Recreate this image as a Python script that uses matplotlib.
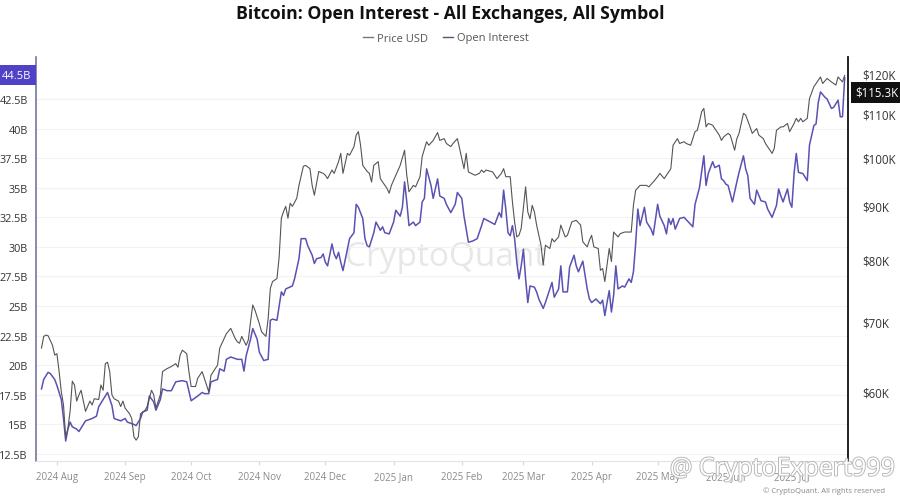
"""Bitcoin: Open Interest と価格のチャート."""

import matplotlib
matplotlib.use("Agg")
import matplotlib.dates as mdates
import matplotlib.patheffects as pe
import matplotlib.pyplot as plt
import matplotlib.transforms as mtransforms
import pandas as pd
from matplotlib.lines import Line2D
from matplotlib.ticker import FixedLocator, NullLocator

# 価格 (千ドル)
price_dates = [
    "2024-07-25", "2024-07-26", "2024-07-27", "2024-07-28", "2024-07-30", "2024-07-31",
    "2024-08-01", "2024-08-02", "2024-08-03", "2024-08-04", "2024-08-05", "2024-08-06",
    "2024-08-07", "2024-08-08", "2024-08-09", "2024-08-10", "2024-08-11", "2024-08-12",
    "2024-08-13", "2024-08-14", "2024-08-16", "2024-08-17", "2024-08-18", "2024-08-20",
    "2024-08-21", "2024-08-22", "2024-08-23", "2024-08-24", "2024-08-25", "2024-08-26",
    "2024-08-27", "2024-08-29", "2024-08-30", "2024-08-31",
    "2024-09-01", "2024-09-03", "2024-09-04", "2024-09-05", "2024-09-06", "2024-09-07",
    "2024-09-08", "2024-09-10", "2024-09-11", "2024-09-13", "2024-09-14", "2024-09-15",
    "2024-09-17", "2024-09-18", "2024-09-20", "2024-09-22", "2024-09-24", "2024-09-25",
    "2024-09-26", "2024-09-27", "2024-09-29", "2024-09-30",
    "2024-10-01", "2024-10-03", "2024-10-04", "2024-10-06", "2024-10-07", "2024-10-09",
    "2024-10-10", "2024-10-13", "2024-10-14", "2024-10-16", "2024-10-17", "2024-10-19",
    "2024-10-21", "2024-10-22", "2024-10-23", "2024-10-24", "2024-10-26", "2024-10-27",
    "2024-10-28", "2024-10-29", "2024-10-30",
    "2024-11-01", "2024-11-02", "2024-11-04", "2024-11-05", "2024-11-06", "2024-11-07",
    "2024-11-09", "2024-11-10", "2024-11-11", "2024-11-12", "2024-11-13", "2024-11-14",
    "2024-11-15", "2024-11-16", "2024-11-18", "2024-11-19", "2024-11-21", "2024-11-22",
    "2024-11-24", "2024-11-25", "2024-11-26", "2024-11-27", "2024-11-28", "2024-11-30",
    "2024-12-01", "2024-12-02", "2024-12-04", "2024-12-05", "2024-12-07", "2024-12-08",
    "2024-12-09", "2024-12-11", "2024-12-12", "2024-12-14", "2024-12-15", "2024-12-16",
    "2024-12-17", "2024-12-18", "2024-12-20", "2024-12-21", "2024-12-22", "2024-12-23",
    "2024-12-25", "2024-12-26", "2024-12-27", "2024-12-29", "2024-12-30", "2024-12-31",
    "2025-01-02", "2025-01-04", "2025-01-06", "2025-01-07", "2025-01-08", "2025-01-10",
    "2025-01-11", "2025-01-13", "2025-01-14", "2025-01-16", "2025-01-17", "2025-01-19",
    "2025-01-21", "2025-01-22", "2025-01-24", "2025-01-25", "2025-01-27", "2025-01-28",
    "2025-01-30", "2025-01-31",
    "2025-02-02", "2025-02-03", "2025-02-04", "2025-02-07", "2025-02-09", "2025-02-10",
    "2025-02-11", "2025-02-12", "2025-02-15", "2025-02-17", "2025-02-19", "2025-02-20",
    "2025-02-21", "2025-02-23", "2025-02-24", "2025-02-25", "2025-02-26", "2025-02-27",
    "2025-02-28",
    "2025-03-02", "2025-03-03", "2025-03-04", "2025-03-05", "2025-03-06", "2025-03-07",
    "2025-03-09", "2025-03-10", "2025-03-11", "2025-03-13", "2025-03-14", "2025-03-15",
    "2025-03-17", "2025-03-18", "2025-03-20", "2025-03-21", "2025-03-23", "2025-03-25",
    "2025-03-27", "2025-03-28", "2025-03-30", "2025-03-31",
    "2025-04-01", "2025-04-02", "2025-04-04", "2025-04-05", "2025-04-06", "2025-04-07",
    "2025-04-09", "2025-04-10", "2025-04-11", "2025-04-13", "2025-04-14", "2025-04-16",
    "2025-04-19", "2025-04-20", "2025-04-21", "2025-04-23", "2025-04-26", "2025-04-27",
    "2025-04-29",
    "2025-05-01", "2025-05-02", "2025-05-04", "2025-05-05", "2025-05-07", "2025-05-08",
    "2025-05-10", "2025-05-11", "2025-05-13", "2025-05-14", "2025-05-16", "2025-05-18",
    "2025-05-19", "2025-05-20", "2025-05-21", "2025-05-22", "2025-05-23", "2025-05-24",
    "2025-05-26", "2025-05-27", "2025-05-29", "2025-05-30", "2025-05-31",
    "2025-06-02", "2025-06-03", "2025-06-05", "2025-06-06", "2025-06-07", "2025-06-09",
    "2025-06-10", "2025-06-12", "2025-06-13", "2025-06-15", "2025-06-16", "2025-06-18",
    "2025-06-19", "2025-06-22", "2025-06-23", "2025-06-24", "2025-06-26", "2025-06-27",
    "2025-06-29", "2025-06-30",
    "2025-07-02", "2025-07-03", "2025-07-04", "2025-07-05", "2025-07-06", "2025-07-08",
    "2025-07-09", "2025-07-11", "2025-07-12", "2025-07-14", "2025-07-15", "2025-07-17",
    "2025-07-19", "2025-07-21", "2025-07-22", "2025-07-24", "2025-07-25",
]
price_k = [
    66.0, 67.7, 67.9, 67.8, 66.4, 65.0,
    65.2, 62.7, 60.0, 58.3, 54.3, 55.4,
    57.5, 61.4, 60.9, 58.8, 59.6, 60.2,
    58.8, 57.5, 58.8, 58.3, 59.1, 59.0,
    60.9, 60.2, 63.8, 64.0, 62.7, 59.6,
    59.1, 58.8, 58.1, 58.8,
    57.9, 57.2, 56.6, 54.4, 54.0, 54.4,
    57.2, 57.6, 58.1, 60.2, 59.6, 57.9,
    59.6, 62.7, 63.1, 63.4, 63.8, 63.3,
    65.0, 65.7, 65.2, 62.7,
    60.7, 60.7, 61.8, 62.7, 61.8, 60.0,
    62.2, 63.6, 66.0, 67.4, 68.1, 68.9,
    67.4, 66.9, 66.7, 67.7, 66.4, 67.2,
    69.9, 72.5, 71.7,
    69.6, 68.4, 67.7, 70.4, 75.2, 76.3,
    76.8, 80.5, 87.6, 88.9, 89.9, 87.6,
    90.5, 89.9, 91.5, 94.1, 98.1, 98.3,
    97.6, 94.1, 92.1, 94.5, 97.0, 96.6,
    96.2, 95.5, 97.3, 96.6, 99.1, 100.9,
    96.6, 100.9, 100.5, 102.4, 105.0, 105.8,
    102.7, 98.3, 97.0, 96.6, 94.8, 98.3,
    99.1, 95.5, 94.8, 93.5, 92.5, 94.1,
    96.2, 98.3, 101.6, 96.2, 92.8, 94.1,
    93.8, 95.9, 100.2, 103.5, 102.7, 103.8,
    105.6, 103.8, 104.2, 103.1, 102.4, 103.1,
    104.2, 102.0,
    97.6, 100.9, 96.9, 96.2, 96.6, 97.3,
    96.8, 97.3, 96.9, 95.5, 96.6, 97.6,
    95.9, 95.9, 90.8, 86.9, 84.1, 84.4,
    85.7,
    93.8, 88.8, 87.5, 90.1, 88.8, 86.3,
    82.6, 79.1, 82.6, 82.0, 83.8, 83.2,
    84.1, 86.3, 84.1, 84.4, 86.9, 87.2,
    86.3, 83.2, 82.3, 83.5,
    84.4, 82.3, 82.0, 78.2, 78.5, 76.3,
    82.0, 79.7, 85.0, 84.1, 84.7, 85.0,
    85.0, 90.1, 93.1, 94.1, 94.1, 93.8,
    94.8,
    95.9, 96.6, 95.5, 96.2, 97.6, 102.7,
    104.2, 103.1, 103.5, 103.1, 102.7, 105.8,
    106.1, 108.1, 110.5, 111.3, 106.9, 107.7,
    107.3, 106.5, 105.0, 103.8, 104.6,
    105.4, 105.0, 101.6, 104.2, 105.4, 110.1,
    109.7, 106.9, 105.4, 106.5, 105.0, 104.2,
    103.1, 100.9, 102.0, 106.1, 106.9, 106.9,
    107.7, 105.8,
    107.7, 108.9, 108.1, 108.9, 108.1, 108.9,
    113.7, 116.7, 117.5, 119.2, 117.5, 118.8,
    117.9, 117.1, 119.2, 117.9, 119.6,
]

# Open Interest (十億ドル)
oi_dates = [
    "2024-07-25", "2024-07-26", "2024-07-28", "2024-07-29", "2024-07-31",
    "2024-08-01", "2024-08-03", "2024-08-04", "2024-08-05", "2024-08-06", "2024-08-07",
    "2024-08-08", "2024-08-10", "2024-08-11", "2024-08-13", "2024-08-14", "2024-08-17",
    "2024-08-19", "2024-08-20", "2024-08-22", "2024-08-24", "2024-08-26", "2024-08-27",
    "2024-08-30",
    "2024-09-01", "2024-09-02", "2024-09-05", "2024-09-06", "2024-09-08", "2024-09-09",
    "2024-09-11", "2024-09-12", "2024-09-14", "2024-09-15", "2024-09-17", "2024-09-18",
    "2024-09-20", "2024-09-22", "2024-09-24", "2024-09-27", "2024-09-29",
    "2024-10-01", "2024-10-04", "2024-10-06", "2024-10-07", "2024-10-09", "2024-10-10",
    "2024-10-13", "2024-10-14", "2024-10-16", "2024-10-17", "2024-10-19", "2024-10-22",
    "2024-10-24", "2024-10-25", "2024-10-26", "2024-10-28", "2024-10-29", "2024-10-31",
    "2024-11-01", "2024-11-03", "2024-11-05", "2024-11-06", "2024-11-07", "2024-11-09",
    "2024-11-10", "2024-11-11", "2024-11-12", "2024-11-13", "2024-11-16", "2024-11-17",
    "2024-11-19", "2024-11-20", "2024-11-22", "2024-11-23", "2024-11-25", "2024-11-26",
    "2024-11-27", "2024-11-29", "2024-11-30",
    "2024-12-01", "2024-12-02", "2024-12-04", "2024-12-05", "2024-12-06", "2024-12-07",
    "2024-12-08", "2024-12-09", "2024-12-11", "2024-12-12", "2024-12-14", "2024-12-15",
    "2024-12-16", "2024-12-18", "2024-12-19", "2024-12-20", "2024-12-21", "2024-12-23",
    "2024-12-24", "2024-12-26", "2024-12-27", "2024-12-28", "2024-12-30",
    "2025-01-01", "2025-01-02", "2025-01-04", "2025-01-05", "2025-01-06", "2025-01-07",
    "2025-01-08", "2025-01-10", "2025-01-11", "2025-01-13", "2025-01-14", "2025-01-15",
    "2025-01-16", "2025-01-18", "2025-01-19", "2025-01-21", "2025-01-22", "2025-01-24",
    "2025-01-25", "2025-01-27", "2025-01-29", "2025-01-30",
    "2025-02-01", "2025-02-02", "2025-02-04", "2025-02-06", "2025-02-08", "2025-02-10",
    "2025-02-11", "2025-02-14", "2025-02-16", "2025-02-18", "2025-02-19", "2025-02-20",
    "2025-02-21", "2025-02-22", "2025-02-23", "2025-02-24", "2025-02-25", "2025-02-26",
    "2025-02-27", "2025-02-28",
    "2025-03-01", "2025-03-02", "2025-03-03", "2025-03-04", "2025-03-06", "2025-03-07",
    "2025-03-08", "2025-03-10", "2025-03-11", "2025-03-13", "2025-03-14", "2025-03-15",
    "2025-03-17", "2025-03-18", "2025-03-19", "2025-03-21", "2025-03-22", "2025-03-24",
    "2025-03-25", "2025-03-26", "2025-03-28", "2025-03-29", "2025-03-30", "2025-03-31",
    "2025-04-01", "2025-04-03", "2025-04-05", "2025-04-06", "2025-04-07", "2025-04-08",
    "2025-04-09", "2025-04-10", "2025-04-11", "2025-04-12", "2025-04-13", "2025-04-15",
    "2025-04-16", "2025-04-18", "2025-04-19", "2025-04-20", "2025-04-21", "2025-04-22",
    "2025-04-23", "2025-04-25", "2025-04-26", "2025-04-28", "2025-04-29",
    "2025-05-01", "2025-05-02", "2025-05-04", "2025-05-05", "2025-05-06", "2025-05-07",
    "2025-05-08", "2025-05-09", "2025-05-11", "2025-05-13", "2025-05-15", "2025-05-17",
    "2025-05-18", "2025-05-20", "2025-05-22", "2025-05-23", "2025-05-24", "2025-05-26",
    "2025-05-27", "2025-05-29", "2025-05-30", "2025-05-31",
    "2025-06-01", "2025-06-02", "2025-06-04", "2025-06-06", "2025-06-07", "2025-06-09",
    "2025-06-10", "2025-06-11", "2025-06-12", "2025-06-14", "2025-06-15", "2025-06-17",
    "2025-06-19", "2025-06-20", "2025-06-22", "2025-06-24", "2025-06-25", "2025-06-26",
    "2025-06-27", "2025-06-29", "2025-06-30",
    "2025-07-01", "2025-07-02", "2025-07-03", "2025-07-04", "2025-07-06", "2025-07-08",
    "2025-07-09", "2025-07-11", "2025-07-12", "2025-07-13", "2025-07-14", "2025-07-16",
    "2025-07-17", "2025-07-19", "2025-07-20", "2025-07-22", "2025-07-23", "2025-07-24",
    "2025-07-25",
]
oi_b = [
    18.0, 18.8, 19.4, 19.3, 18.8,
    18.3, 17.1, 15.5, 13.6, 14.6, 15.2,
    14.8, 14.6, 14.4, 15.0, 15.3, 15.5,
    15.7, 16.5, 17.1, 17.7, 16.6, 15.5,
    15.3,
    15.5, 15.2, 15.0, 14.9, 15.5, 16.05,
    16.2, 17.4, 16.9, 16.2, 17.1, 18.0,
    17.85, 17.85, 18.6, 18.7, 18.6,
    17.0, 17.4, 17.7, 17.6, 17.6, 18.6,
    18.8, 19.7, 19.5, 20.5, 20.7, 20.5,
    20.5, 19.5, 20.8, 22.2, 23.1, 22.2,
    21.1, 20.4, 20.5, 23.8, 23.9, 23.8,
    25.0, 26.2, 25.9, 26.45, 26.7, 27.3,
    29.0, 30.7, 30.7, 30.1, 29.3, 28.6,
    29.0, 29.1, 29.4,
    28.7, 28.4, 30.25, 29.4, 29.0, 29.55,
    28.7, 28.0, 29.8, 30.7, 31.2, 33.6,
    33.35, 32.4, 30.7, 30.1, 30.0, 31.2,
    32.1, 31.4, 31.7, 31.2, 31.1,
    32.1, 33.1, 32.6, 33.35, 35.5, 33.8,
    31.8, 32.1, 31.8, 32.1, 33.8, 34.1,
    36.6, 35.2, 34.1, 35.75, 34.3, 34.1,
    33.6, 32.9, 33.6, 34.6,
    34.1, 32.6, 30.4, 30.5, 30.7, 31.8,
    32.4, 32.1, 31.9, 32.9, 32.5, 34.8,
    33.2, 31.2, 30.95, 31.8, 30.7, 28.7,
    27.3, 28.4,
    29.8, 27.3, 25.3, 26.7, 26.6, 26.2,
    25.6, 24.8, 25.3, 26.45, 27.0, 25.75,
    26.45, 28.4, 26.2, 26.2, 28.3, 29.3,
    28.4, 27.9, 28.8, 27.6, 26.45, 25.6,
    25.3, 25.6, 25.2, 25.5, 24.2, 25.3,
    26.3, 24.5, 25.9, 28.4, 26.45, 26.7,
    26.6, 27.3, 27.0, 27.9, 30.25, 33.2,
    31.8, 33.35, 32.1, 31.5, 31.0,
    33.6, 32.6, 31.8, 31.1, 32.4, 31.9,
    32.4, 31.5, 32.4, 32.5, 32.1, 31.7,
    33.6, 35.0, 37.7, 35.2, 36.2, 37.2,
    36.7, 36.9, 35.75, 35.6,
    35.3, 35.2, 33.8, 35.5, 36.3, 37.7,
    36.6, 36.0, 34.1, 33.6, 34.8, 33.9,
    33.8, 33.2, 32.5, 33.5, 34.9, 34.3,
    33.8, 34.9, 33.8,
    33.35, 36.2, 37.9, 36.3, 36.2, 35.6,
    38.6, 40.25, 40.4, 42.2, 43.1, 42.65,
    42.5, 41.7, 41.8, 42.4, 41.0, 41.0,
    44.3,
]

oi_ticks = [12.5, 15, 17.5, 20, 22.5, 25, 27.5, 30, 32.5, 35, 37.5, 40, 42.5]
price_ticks = [60, 70, 80, 90, 100, 110, 120]
last_oi = 44.5
last_price = 115.3

PRICE_COLOR = "#555555"
OI_COLOR = "#5a52b3"


def main():
    """メイン関数."""
    plt.rcParams["font.family"] = ["Open Sans", "DejaVu Sans"]

    fig = plt.figure(figsize=(9, 5.02), dpi=100)
    ax = fig.add_axes([0.04, 0.0797, 0.9022, 0.8048])
    ax2 = ax.twinx()

    px = pd.to_datetime(price_dates)
    ox = pd.to_datetime(oi_dates)

    # ウォーターマーク
    ax.text(0.504, 0.505, "CryptoQuant", transform=ax.transAxes,
            ha="center", va="center", fontsize=24, color="#e7e7e7", zorder=0)

    ax.plot(ox, oi_b, color=OI_COLOR, lw=1.1, zorder=3)
    ax2.plot(px, price_k, color=PRICE_COLOR, lw=0.8)

    ax.set_xlim(px[0] - pd.Timedelta(days=2.5), px[-1] + pd.Timedelta(days=1.5))

    # 左軸 (OI)
    ax.set_ylim(11.91, 46.05)
    ax.yaxis.set_major_locator(FixedLocator(oi_ticks))
    ax.set_yticklabels(["{:g}B".format(v) for v in oi_ticks])
    ax.tick_params(axis="y", length=0, pad=6, labelsize=7.8, labelcolor="#333333")
    ax.yaxis.grid(True, color="#f2f2f2", lw=0.8)
    ax.set_axisbelow(True)

    # 右軸 (価格, 対数)
    ax2.set_yscale("log")
    ax2.set_ylim(51.6, 124.5)
    ax2.yaxis.set_major_locator(FixedLocator(price_ticks))
    ax2.yaxis.set_minor_locator(NullLocator())
    ax2.set_yticklabels(["${}K".format(v) for v in price_ticks])
    ax2.tick_params(axis="y", length=0, pad=10, labelsize=8.3, labelcolor="#333333")

    # x軸
    ax.xaxis.set_major_locator(mdates.MonthLocator())
    ax.xaxis.set_major_formatter(mdates.DateFormatter("%Y %b"))
    ax.tick_params(axis="x", length=3, color="#d8d8d8", labelsize=7,
                   labelcolor="#8a8a8a", pad=4)

    for side in ["top", "right"]:
        ax.spines[side].set_visible(False)
    for side in ["top", "left", "bottom"]:
        ax2.spines[side].set_visible(False)
    ax.spines["left"].set_color("#77759c")
    ax.spines["left"].set_linewidth(1.2)
    ax.spines["bottom"].set_color("#e3e3e3")
    ax2.spines["right"].set_color("#111111")
    ax2.spines["right"].set_linewidth(1.3)

    # 最新値のラベル
    lt = mtransforms.blended_transform_factory(ax.transAxes, ax.transData)
    ax.text(-0.006, last_oi, "{:g}B".format(last_oi), transform=lt,
            ha="right", va="center", fontsize=8, color="white", clip_on=False,
            bbox=dict(boxstyle="square,pad=0.4", fc="#4f42c6", ec="none"))
    rt = mtransforms.blended_transform_factory(ax2.transAxes, ax2.transData)
    ax2.text(1.009, last_price, "${}K".format(last_price), transform=rt,
             ha="left", va="center", fontsize=8.3, color="white", clip_on=False,
             bbox=dict(boxstyle="square,pad=0.35", fc="#111111", ec="none"))

    # タイトルと凡例
    fig.text(0.5, 1 - 14 / 502, "Bitcoin: Open Interest - All Exchanges, All Symbol",
             ha="center", va="center", fontsize=12.7, fontweight="bold", color="#111111")
    handles = [Line2D([], [], color="#777777", lw=1),
               Line2D([], [], color="#555577", lw=1)]
    fig.legend(handles, ["Price USD", "Open Interest"], loc="center",
               bbox_to_anchor=(446 / 900, 1 - 39 / 502), ncol=2, frameon=False,
               fontsize=8, handlelength=0.9, handletextpad=0.35,
               columnspacing=1.4, labelcolor="#555555")

    fig.text(885 / 900, 1 - 491 / 502, "\u00a9 CryptoQuant. All rights reserved",
             ha="right", va="center", fontsize=5.5, color="#888888")
    fig.text(895 / 900, 1 - 470 / 502, "@ CryptoExpert999",
             ha="right", va="center", fontsize=18, color="white",
             path_effects=[pe.withStroke(linewidth=1.3, foreground="#b5b5b5")])

    fig.savefig("out.png", dpi=100)


if __name__ == "__main__":
    main()
